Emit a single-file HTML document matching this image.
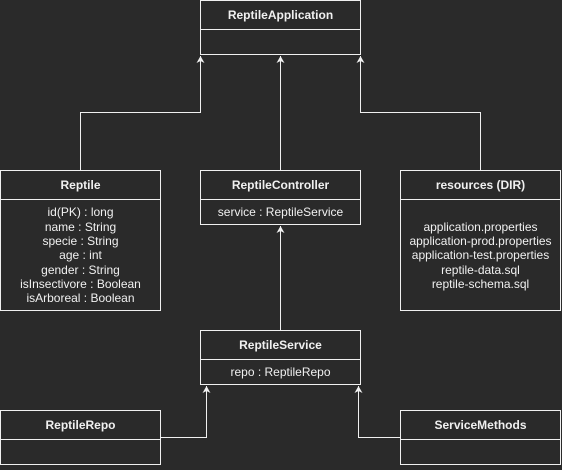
<!DOCTYPE html>
<html><head><meta charset="utf-8"><style>
html,body{margin:0;padding:0;background:#2a2a2a;}
body{width:562px;height:465px;overflow:hidden;}
text{font-family:"Liberation Sans",Arial,sans-serif;fill:#f0f0f0;font-size:12px;text-anchor:middle;}
.b{font-weight:bold;font-size:12px;}
</style></head><body>
<svg width="562" height="465" viewBox="0 0 562 465" xmlns="http://www.w3.org/2000/svg">
<defs><marker id="a" markerWidth="8" markerHeight="10" refX="7" refY="4" orient="auto" markerUnits="userSpaceOnUse">
<path d="M0,0 L7,4 L0,8 L2,4 Z" fill="#f0f0f0"/></marker></defs>
<g fill="none" stroke="#f0f0f0" stroke-width="1">
<rect x="200.5" y="0.5" width="160" height="54"/><line x1="200.5" y1="29.5" x2="360.5" y2="29.5"/>
<rect x="0.5" y="170.5" width="160" height="140"/><line x1="0.5" y1="199.5" x2="160.5" y2="199.5"/>
<rect x="200.5" y="170.5" width="160" height="54"/><line x1="200.5" y1="199.5" x2="360.5" y2="199.5"/>
<rect x="400.5" y="170.5" width="160" height="140"/><line x1="400.5" y1="199.5" x2="560.5" y2="199.5"/>
<rect x="200.5" y="330.5" width="160" height="54"/><line x1="200.5" y1="359.5" x2="360.5" y2="359.5"/>
<rect x="0.5" y="410.5" width="160" height="54"/><line x1="0.5" y1="439.5" x2="160.5" y2="439.5"/>
<rect x="400.5" y="410.5" width="160" height="54"/><line x1="400.5" y1="439.5" x2="560.5" y2="439.5"/>
<polyline points="80.5,170.5 80.5,112.5 200.5,112.5 200.5,56" marker-end="url(#a)"/>
<polyline points="280.5,170.5 280.5,56" marker-end="url(#a)"/>
<polyline points="480.5,170.5 480.5,112.5 360.5,112.5 360.5,56" marker-end="url(#a)"/>
<polyline points="280.5,330.5 280.5,226" marker-end="url(#a)"/>
<polyline points="160.5,437.5 206.5,437.5 206.5,386" marker-end="url(#a)"/>
<polyline points="400.5,437.5 358.5,437.5 358.5,386" marker-end="url(#a)"/>
</g>
<text class="b" x="280.5" y="19">ReptileApplication</text>
<text class="b" x="80.5" y="189">Reptile</text>
<text class="b" x="280.5" y="189">ReptileController</text>
<text class="b" x="480.5" y="189">resources (DIR)</text>
<text class="b" x="280.5" y="349">ReptileService</text>
<text class="b" x="80.5" y="429">ReptileRepo</text>
<text class="b" x="480.5" y="429">ServiceMethods</text>
<text x="280.5" y="216">service : ReptileService</text>
<text x="280.5" y="376">repo : ReptileRepo</text>
<text x="80.5" y="216">id(PK) : long</text>
<text x="80.5" y="231">name : String</text>
<text x="80.5" y="245">specie : String</text>
<text x="80.5" y="259">age : int</text>
<text x="80.5" y="274">gender : String</text>
<text x="80.5" y="288">isInsectivore : Boolean</text>
<text x="80.5" y="302">isArboreal : Boolean</text>
<text x="480.5" y="231">application.properties</text>
<text x="480.5" y="245">application-prod.properties</text>
<text x="480.5" y="259">application-test.properties</text>
<text x="480.5" y="274">reptile-data.sql</text>
<text x="480.5" y="288">reptile-schema.sql</text>
</svg>
</body></html>
